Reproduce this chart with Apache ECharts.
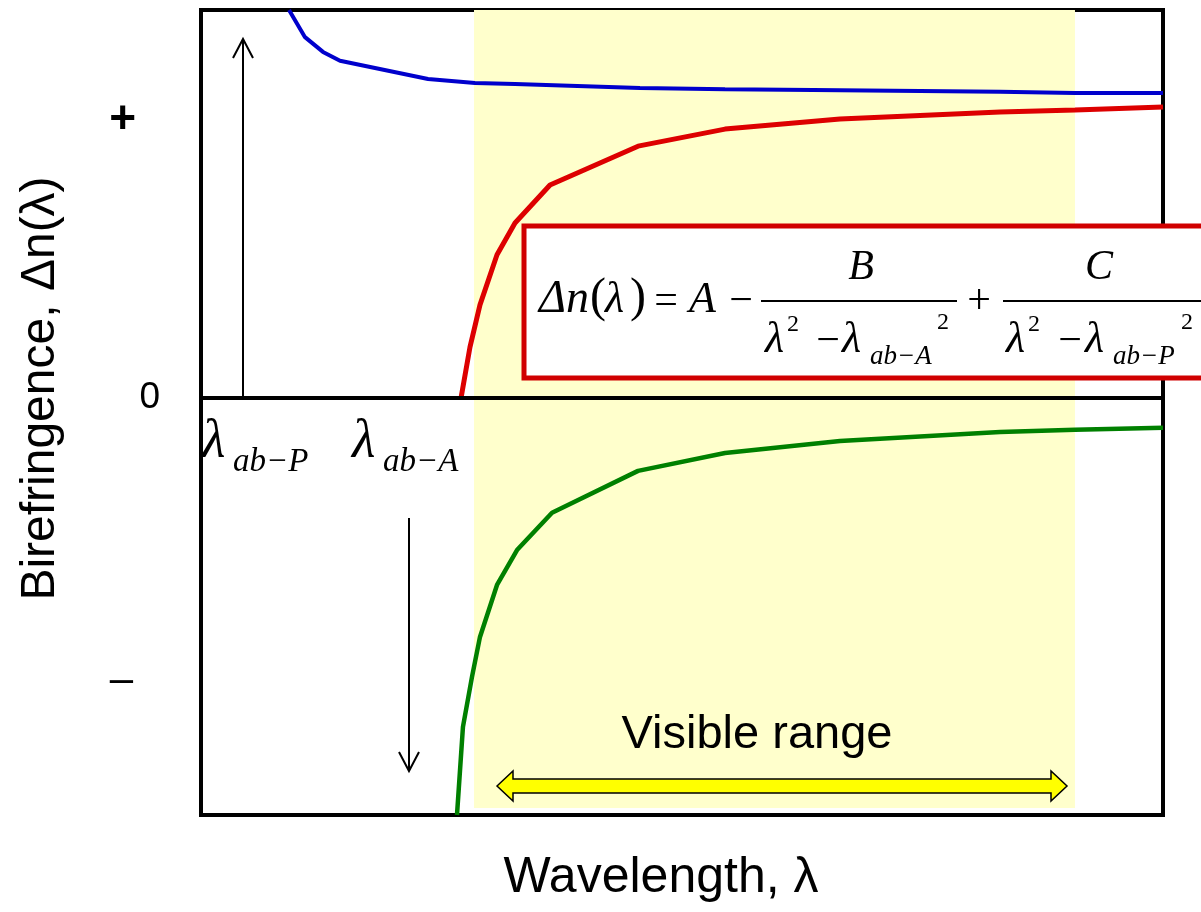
<!DOCTYPE html>
<html><head><meta charset="utf-8">
<script src="https://cdn.jsdelivr.net/npm/echarts@6/dist/echarts.min.js"></script>
<style>html,body{margin:0;padding:0;background:#fff}#c{width:1201px;height:912px}</style>
</head><body><div id="c"></div>
<script>
// ---- data (arbitrary units: x 0..100, y -107.5..100) ----
const blueX  = [9.15, 10.81, 12.68, 14.45, 23.6, 28.48, 32.64, 45.63, 54.47, 63.62, 83.06, 90.85, 100];
const blueY  = [100, 93.0, 89.2, 86.9, 82.2, 81.2, 80.9, 79.9, 79.6, 79.4, 78.9, 78.6, 78.6];
const redX   = [27.03, 27.96, 29.0, 30.77, 32.64, 36.28, 45.43, 54.47, 66.42, 83.06, 90.85, 100];
const redY   = [0, 13.1, 24.0, 36.9, 45.1, 54.9, 64.9, 69.3, 71.9, 73.7, 74.2, 75.0];
const greenX = [26.61, 27.23, 28.17, 29.0, 30.77, 32.85, 36.49, 45.43, 54.47, 66.42, 83.06, 90.85, 100];
const greenY = [-107.5, -84.8, -71.9, -61.6, -48.2, -39.2, -29.6, -18.8, -14.2, -11.1, -8.8, -8.2, -7.7];
const bandX  = [28.38, 90.85];
const tickValues = [71.6, 0, -72.7];
const tickLabels = ['+', '0', '–'];
const xTitle = 'Wavelength, λ';
const yTitle = 'Birefringence, Δn(λ)';
const bandLabel = 'Visible range';

const pairs = (xs, ys) => xs.map((x, i) => [x, ys[i]]);
const SANS = '"Liberation Sans", Arial, sans-serif';
const SERIF = '"Liberation Serif", "Times New Roman", serif';

const chart = echarts.init(document.getElementById('c'), null, {renderer: 'canvas'});

function T(text, x, y, size, opts) {
  opts = opts || {};
  return {
    type: 'text', z: 100, x: x, y: y,
    style: {
      text: text,
      fill: '#000',
      font: (opts.italic === false ? '' : 'italic ') + size + 'px ' + (opts.family || SERIF),
      textAlign: opts.align || 'left',
      textVerticalAlign: 'middle'
    }
  };
}
function L(x1, y1, x2, y2, w, color) {
  return {type: 'line', z: 100, shape: {x1, y1, x2, y2}, style: {stroke: color || '#000', lineWidth: w || 2}};
}
function P(points, w) {
  return {type: 'polyline', z: 100, shape: {points}, style: {stroke: '#000', lineWidth: w || 2, fill: null}};
}

const graphics = [
  // formula box
  {type: 'rect', z: 90, shape: {x: 524, y: 226, width: 700, height: 152},
   style: {fill: '#fff', stroke: '#D00000', lineWidth: 5}},
  T('Δn', 539, 300, 46),
  T('(', 590, 298, 48, {italic: false}),
  T('λ', 605, 300, 44),
  T(')', 630, 298, 48, {italic: false}),
  T('=', 666, 302, 42, {italic: false, align: 'center'}),
  T('A', 689, 300, 44),
  T('−', 741, 302, 42, {italic: false, align: 'center'}),
  L(761, 301, 957, 301, 2),
  T('B', 861, 268, 42, {align: 'center'}),
  T('λ', 765, 340, 44),
  T('2', 787, 325, 24, {italic: false}),
  T('−', 828, 342, 42, {italic: false, align: 'center'}),
  T('λ', 842, 340, 44),
  T('ab−A', 870, 357, 27),
  T('2', 937, 323, 24, {italic: false}),
  T('+', 979, 302, 42, {italic: false, align: 'center'}),
  L(1003, 301, 1205, 301, 2),
  T('C', 1099, 268, 42, {align: 'center'}),
  T('λ', 1006, 340, 44),
  T('2', 1028, 325, 24, {italic: false}),
  T('−', 1070, 342, 42, {italic: false, align: 'center'}),
  T('λ', 1085, 340, 44),
  T('ab−P', 1113, 357, 27),
  T('2', 1181, 323, 24, {italic: false}),
  // absorption wavelength labels
  T('λ', 202, 443, 54),
  T('ab−P', 233, 462, 33),
  T('λ', 352, 443, 54),
  T('ab−A', 383, 462, 33),
  // arrows
  L(243, 398, 243, 40, 2),
  P([[233, 58], [243, 39], [253, 58]], 2),
  L(409, 518, 409, 770, 2),
  P([[399, 752], [409, 771], [419, 752]], 2),
  // visible range double arrow
  {type: 'polygon', z: 100, shape: {points: [[497, 786], [513, 771], [513, 779], [1051, 779], [1051, 771], [1067, 786], [1051, 801], [1051, 793], [513, 793], [513, 801]]},
   style: {fill: '#FFFF00', stroke: '#000', lineWidth: 1.5}},
  T(bandLabel, 757, 735, 47, {italic: false, family: SANS, align: 'center'})
];

const option = {
  animation: false,
  backgroundColor: '#fff',
  grid: {left: 201, right: 38, top: 10, bottom: 97, show: true, borderColor: '#000', borderWidth: 4,
         backgroundColor: 'transparent', containLabel: false, outerBoundsMode: 'none'},
  xAxis: {
    type: 'value', min: 0, max: 100,
    axisLine: {show: false}, axisTick: {show: false}, axisLabel: {show: false}, splitLine: {show: false},
    name: xTitle, nameLocation: 'middle', nameGap: 38,
    nameTextStyle: {fontSize: 50, color: '#000', fontFamily: SANS, padding: [0, 42, 0, 0]}
  },
  yAxis: {
    type: 'value', min: -107.5, max: 100,
    axisLine: {show: false}, axisTick: {show: false}, splitLine: {show: false},
    axisLabel: {
      show: true, customValues: tickValues, margin: 41, color: '#000',
      formatter: v => {
        const i = tickValues.indexOf(v);
        const s = i >= 0 ? tickLabels[i] : '';
        if (s === '0') return '{z|0}';
        if (s === '+') return '{p|+}';
        return '{m|' + s + '}';
      },
      rich: {
        z: {fontSize: 37, fontFamily: SANS, color: '#000'},
        p: {fontSize: 46, fontWeight: 'bold', fontFamily: SANS, color: '#000', padding: [0, 24, 0, 0]},
        m: {fontSize: 42, fontFamily: SANS, color: '#000', padding: [0, 27, 0, 0]}
      }
    },
    name: yTitle, nameLocation: 'middle', nameGap: 136, nameRotate: 90,
    nameTextStyle: {fontSize: 48, color: '#000', fontFamily: SANS, padding: [0, 0, 0, 48]}
  },
  series: [
    {
      type: 'line', name: 'positive', data: pairs(blueX, blueY), symbol: 'none', clip: true, z: 3,
      lineStyle: {color: '#0000CC', width: 4},
      markArea: {silent: true, itemStyle: {color: '#FFFFCC'},
        data: [[{xAxis: bandX[0], yAxis: 100}, {xAxis: bandX[1], yAxis: -105.7}]]},
      markLine: {silent: true, symbol: ['none', 'none'], label: {show: false},
        lineStyle: {color: '#000', width: 4, type: 'solid'}, data: [{yAxis: 0}]}
    },
    {type: 'line', name: 'total', data: pairs(redX, redY), symbol: 'none', clip: true, z: 3,
     lineStyle: {color: '#DD0000', width: 5}},
    {type: 'line', name: 'negative', data: pairs(greenX, greenY), symbol: 'none', clip: true, z: 3,
     lineStyle: {color: '#008000', width: 4.5}}
  ],
  graphic: graphics
};
chart.setOption(option);
</script></body></html>
